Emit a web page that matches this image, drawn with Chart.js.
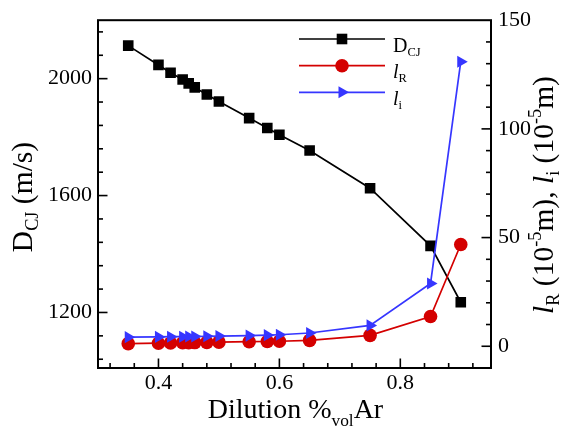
<!DOCTYPE html>
<html lang="en">
<head>
  <meta charset="UTF-8" />
  <title>Detonation velocity and cell lengths vs. argon dilution</title>
  <style>
    body {
      margin: 0;
      padding: 0;
      background: #fff;
    }

    .chart-box {
      width: 565px;
      height: 434px;
      position: relative;
    }
  </style>
</head>
<body>
  <div class="chart-box">
    <canvas id="dcj-chart"></canvas>
  </div>

  <script src="https://cdn.jsdelivr.net/npm/chart.js@4"></script>
  <script>
    // argon dilution (volume fraction)
    const dilution = [0.35, 0.40, 0.42, 0.44, 0.45, 0.46, 0.48, 0.50, 0.55, 0.58, 0.60, 0.65, 0.75, 0.85, 0.90];
    // CJ detonation velocity, m/s
    const dcj = [2113, 2047, 2020, 1997, 1984, 1970, 1946, 1922, 1865, 1831, 1808, 1754, 1625, 1428, 1235];
    // reaction length l_R and induction length l_i, 1e-5 m
    const lR = [1.2, 1.4, 1.5, 1.6, 1.6, 1.7, 1.8, 1.9, 2.1, 2.2, 2.3, 2.7, 5.0, 13.7, 46.8];
    const li = [4.2, 4.3, 4.4, 4.4, 4.5, 4.5, 4.6, 4.7, 4.9, 5.1, 5.3, 6.1, 9.6, 28.9, 130.9];

    const xTicks = [0.4, 0.6, 0.8];
    const yTicks = [1200, 1600, 2000];
    const y2Ticks = [0, 50, 100, 150];

    const FONT = '"Liberation Serif", "Times New Roman", serif';
    const BLACK = '#000000';
    const RED = '#d40000';
    const BLUE = '#3636ff';

    Chart.defaults.font.family = FONT;
    Chart.defaults.color = BLACK;

    const pts = (ys) => dilution.map((x, i) => ({ x: x, y: ys[i] }));

    function fixedTicks(values) {
      return (scale) => {
        scale.ticks = values.map((v) => ({ value: v }));
      };
    }

    function fontOf(p) {
      return `${p.it ? 'italic ' : ''}${p.size}px ${FONT}`;
    }

    // draws a run of text pieces (sub/superscripts, italics) along one baseline
    function drawRich(ctx, parts, x, y, angle, align) {
      ctx.save();
      ctx.translate(x, y);
      ctx.rotate(angle);
      ctx.textBaseline = 'alphabetic';
      ctx.textAlign = 'left';
      ctx.fillStyle = BLACK;
      let total = 0;
      parts.forEach((p) => {
        ctx.font = fontOf(p);
        p.w = ctx.measureText(p.t).width;
        total += p.w;
      });
      let cx = align === 'center' ? -total / 2 : 0;
      parts.forEach((p) => {
        ctx.font = fontOf(p);
        ctx.fillText(p.t, cx, p.dy || 0);
        cx += p.w;
      });
      ctx.restore();
    }

    function drawMarker(ctx, style, x, y, color) {
      ctx.save();
      ctx.fillStyle = color;
      ctx.beginPath();
      if (style === 'rect') {
        ctx.rect(x - 5.3, y - 5.3, 10.6, 10.6);
      } else if (style === 'circle') {
        ctx.arc(x, y, 6.8, 0, Math.PI * 2);
      } else {
        const r = 7;
        ctx.moveTo(x + r, y);
        ctx.lineTo(x - r / 2, y - r * 0.866);
        ctx.lineTo(x - r / 2, y + r * 0.866);
        ctx.closePath();
      }
      ctx.fill();
      ctx.restore();
    }

    function drawAxisTicks(ctx, scale, majors, step, side, area) {
      const base = majors[0];
      for (let k = -60; k <= 60; k++) {
        const v = +(base + k * step).toFixed(6);
        if (v <= scale.min || v >= scale.max) continue;
        const isMajor = majors.some((m) => Math.abs(m - v) < step / 100);
        const len = isMajor ? 9.5 : 5;
        const p = scale.getPixelForValue(v);
        ctx.beginPath();
        if (side === 'bottom') {
          ctx.moveTo(p, area.bottom);
          ctx.lineTo(p, area.bottom - len);
        } else if (side === 'left') {
          ctx.moveTo(area.left, p);
          ctx.lineTo(area.left + len, p);
        } else {
          ctx.moveTo(area.right, p);
          ctx.lineTo(area.right - len, p);
        }
        ctx.stroke();
      }
    }

    const frameAndLabels = {
      id: 'frameAndLabels',
      afterDraw(chart) {
        const ctx = chart.ctx;
        const a = chart.chartArea;
        const s = chart.scales;

        // ticks pointing into the plot
        ctx.save();
        ctx.strokeStyle = BLACK;
        ctx.lineWidth = 1.6;
        drawAxisTicks(ctx, s.x, xTicks, 0.04, 'bottom', a);
        drawAxisTicks(ctx, s.y, yTicks, 80, 'left', a);
        drawAxisTicks(ctx, s.y2, y2Ticks, 10, 'right', a);

        // box
        ctx.lineWidth = 2;
        ctx.strokeRect(a.left, a.top, a.right - a.left, a.bottom - a.top);
        ctx.restore();

        // axis titles
        const F = 28;
        const FY = 29.5;
        drawRich(ctx, [
          { t: 'Dilution %', size: F },
          { t: 'vol', size: F * 0.62, dy: F * 0.3 },
          { t: 'Ar', size: F }
        ], (a.left + a.right) / 2 + 1, 418, 0, 'center');

        drawRich(ctx, [
          { t: 'D', size: FY },
          { t: 'CJ', size: FY * 0.62, dy: FY * 0.22 },
          { t: ' (m/s)', size: FY }
        ], 32, 197, -Math.PI / 2, 'center');

        drawRich(ctx, [
          { t: 'l', size: FY, it: true },
          { t: 'R', size: FY * 0.62, dy: FY * 0.22 },
          { t: ' (10', size: FY },
          { t: '-5', size: FY * 0.62, dy: -FY * 0.4 },
          { t: 'm), ', size: FY },
          { t: 'l', size: FY, it: true },
          { t: 'i', size: FY * 0.62, dy: FY * 0.22 },
          { t: ' (10', size: FY },
          { t: '-5', size: FY * 0.62, dy: -FY * 0.4 },
          { t: 'm)', size: FY }
        ], 553, 195, -Math.PI / 2, 'center');

        // legend
        const rows = [
          { y: 39, color: BLACK, marker: 'rect', text: [{ t: 'D', size: 20 }, { t: 'CJ', size: 12.5, dy: 4 }] },
          { y: 65.7, color: RED, marker: 'circle', text: [{ t: 'l', size: 20, it: true }, { t: 'R', size: 12.5, dy: 4 }] },
          { y: 92.3, color: BLUE, marker: 'triangle', text: [{ t: 'l', size: 20, it: true }, { t: 'i', size: 12.5, dy: 4 }] }
        ];
        rows.forEach((r) => {
          ctx.save();
          ctx.strokeStyle = r.color;
          ctx.lineWidth = 1.7;
          ctx.beginPath();
          ctx.moveTo(299, r.y);
          ctx.lineTo(385, r.y);
          ctx.stroke();
          ctx.restore();
          drawMarker(ctx, r.marker, 342, r.y, r.color);
          drawRich(ctx, r.text, 393, r.y + 12.5, 0, 'left');
        });
      }
    };

    const tickFont = { size: 22, family: FONT };

    new Chart(document.getElementById('dcj-chart'), {
      type: 'line',
      data: {
        datasets: [
          {
            label: 'li',
            data: pts(li),
            yAxisID: 'y2',
            borderColor: BLUE,
            backgroundColor: BLUE,
            borderWidth: 1.7,
            pointStyle: 'triangle',
            pointRotation: 90,
            pointRadius: 7,
            pointBorderWidth: 0,
            order: 0
          },
          {
            label: 'lR',
            data: pts(lR),
            yAxisID: 'y2',
            borderColor: RED,
            backgroundColor: RED,
            borderWidth: 1.7,
            pointStyle: 'circle',
            pointRadius: 6.8,
            pointBorderWidth: 0,
            order: 1
          },
          {
            label: 'DCJ',
            data: pts(dcj),
            yAxisID: 'y',
            borderColor: BLACK,
            backgroundColor: BLACK,
            borderWidth: 1.7,
            pointStyle: 'rect',
            pointRadius: 7.5,
            pointBorderWidth: 0,
            order: 2
          }
        ]
      },
      options: {
        responsive: true,
        maintainAspectRatio: false,
        animation: false,
        layout: { padding: { top: 17, right: 0, bottom: 0, left: 0 } },
        plugins: {
          legend: { display: false },
          tooltip: { enabled: false }
        },
        scales: {
          x: {
            type: 'linear',
            position: 'bottom',
            min: 0.3,
            max: 0.95,
            afterBuildTicks: fixedTicks(xTicks),
            afterFit: (scale) => { scale.height = 66; },
            grid: { display: false, drawTicks: false },
            border: { display: false },
            ticks: { font: tickFont, color: BLACK, padding: 2, maxRotation: 0, callback: (v) => v.toFixed(1) }
          },
          y: {
            type: 'linear',
            position: 'left',
            min: 1010,
            max: 2200,
            afterBuildTicks: fixedTicks(yTicks),
            afterFit: (scale) => { scale.width = 98; },
            grid: { display: false, drawTicks: false },
            border: { display: false },
            ticks: { font: tickFont, color: BLACK, padding: 6, callback: (v) => String(v) }
          },
          y2: {
            type: 'linear',
            position: 'right',
            min: -10,
            max: 150,
            afterBuildTicks: fixedTicks(y2Ticks),
            afterFit: (scale) => { scale.width = 74; },
            grid: { display: false, drawTicks: false },
            border: { display: false },
            ticks: { font: tickFont, color: BLACK, padding: 7, callback: (v) => String(v) }
          }
        }
      },
      plugins: [frameAndLabels]
    });
  </script>
</body>
</html>
